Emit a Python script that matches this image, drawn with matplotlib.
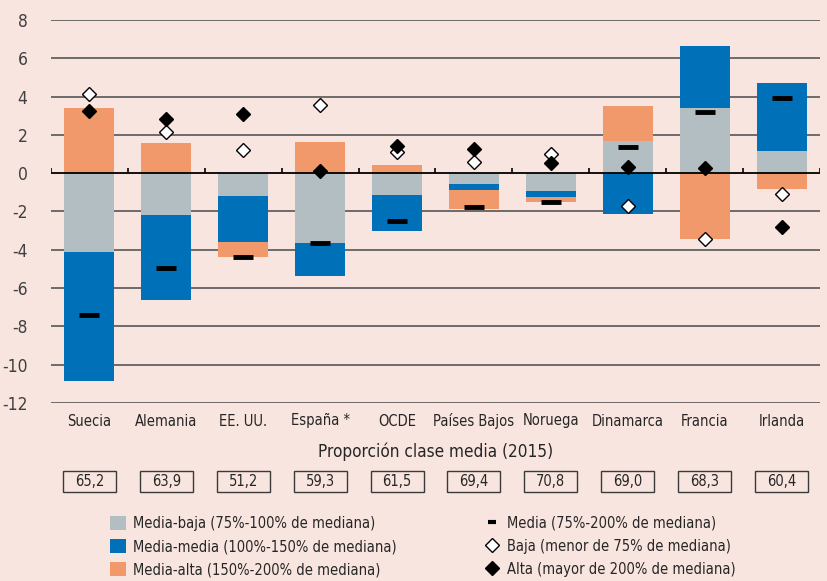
import matplotlib.pyplot as plt
import matplotlib.transforms as mtransforms
from matplotlib.patches import Patch, Rectangle
from matplotlib.lines import Line2D
import numpy as np

plt.rcParams['font.family'] = ['DejaVu Sans']
plt.rcParams['font.stretch'] = 'condensed'
plt.rcParams['axes.unicode_minus'] = False

countries = ['Suecia', 'Alemania', 'EE. UU.', 'España *', 'OCDE', 'Países Bajos',
             'Noruega', 'Dinamarca', 'Francia', 'Irlanda']
media_baja = [-4.10, -2.17, -1.18, -3.64, -1.13, -0.56, -0.92, 1.69, 3.41, 1.16]
media_media = [-6.77, -4.43, -2.40, -1.72, -1.87, -0.31, -0.32, -2.11, 3.23, 3.55]
media_alta = [3.40, 1.58, -0.79, 1.63, 0.43, -0.99, -0.29, 1.82, -3.41, -0.80]
media = [-7.43, -4.97, -4.35, -3.67, -2.52, -1.79, -1.48, 1.39, 3.21, 3.94]
baja = [4.14, 2.17, 1.22, 3.58, 1.13, 0.57, 0.99, -1.72, -3.44, -1.08]
alta = [3.27, 2.83, 3.11, 0.12, 1.44, 1.25, 0.55, 0.33, 0.26, -2.82]
proporcion = ['65,2', '63,9', '51,2', '59,3', '61,5', '69,4', '70,8', '69,0', '68,3', '60,4']

BG = '#f9e5df'
GRAY = '#b3bec3'
BLUE = '#0071b9'
ORANGE = '#f2996b'
TXT = '#262626'

fig = plt.figure(figsize=(8.27, 5.81), dpi=100, facecolor=BG)
ax = fig.add_axes([51 / 827, 1 - 403 / 581, 769 / 827, 383 / 581], facecolor=BG)

x = np.arange(len(countries))
w = 0.65

# stack positives and negatives separately, gray -> blue -> orange from zero
pos = np.zeros(len(x))
neg = np.zeros(len(x))
for vals, col in [(media_baja, GRAY), (media_media, BLUE), (media_alta, ORANGE)]:
    v = np.array(vals)
    bottom = np.where(v >= 0, pos, neg)
    ax.bar(x, v, w, bottom=bottom, color=col, zorder=2, linewidth=0)
    pos = pos + np.where(v >= 0, v, 0)
    neg = neg + np.where(v < 0, v, 0)

ax.plot(x, media, ls='none', marker='_', ms=14, mew=3.5, color='black', zorder=4)
ax.plot(x, baja, ls='none', marker='D', ms=7.5, mfc='white', mec='black', mew=1, zorder=4)
ax.plot(x, alta, ls='none', marker='D', ms=7.5, mfc='black', mec='black', zorder=4)

ax.set_xlim(-0.5, len(x) - 0.5)
ax.set_ylim(-12, 8)
ax.set_yticks(range(-12, 9, 2))
for yv in range(-12, 9, 2):
    if yv != 0:
        ax.axhline(yv, color='#555555', lw=1.2, zorder=1)
ax.axhline(0, color='black', lw=1.3, zorder=3)
ax.vlines(np.arange(len(x) + 1) - 0.5, 0, 0.25, color='black', lw=1.2, zorder=3)

for s in ax.spines.values():
    s.set_visible(False)
ax.tick_params(axis='y', length=0, pad=17, labelsize=12.5, labelcolor='#404040')
ax.tick_params(axis='x', length=0)
ax.set_xticks([])

trans = mtransforms.blended_transform_factory(ax.transData, fig.transFigure)
for i, name in enumerate(countries):
    ax.text(i, 1 - 421 / 581, name, transform=trans, ha='center', va='center',
            fontsize=10.5, color=TXT)
    ax.add_patch(Rectangle((i - 0.345, 1 - 492 / 581), 0.69, 21.5 / 581, transform=trans,
                           fill=False, edgecolor='#3a3a3a', lw=1, clip_on=False))
    ax.text(i, 1 - 481.5 / 581, proporcion[i], transform=trans, ha='center', va='center',
            fontsize=10.5, color=TXT)

fig.text(435.5 / 827, 1 - 452 / 581, 'Proporción clase media (2015)', ha='center',
         va='center', fontsize=12.3, color=TXT)

handles = [
    Patch(facecolor=GRAY, edgecolor='none'),
    Patch(facecolor=BLUE, edgecolor='none'),
    Patch(facecolor=ORANGE, edgecolor='none'),
    Line2D([], [], ls='none', marker='_', ms=6, mew=3, color='black'),
    Line2D([], [], ls='none', marker='D', ms=7, mfc='white', mec='black', mew=1),
    Line2D([], [], ls='none', marker='D', ms=7, mfc='black', mec='black'),
]
labels = [
    'Media-baja (75%-100% de mediana)',
    'Media-media (100%-150% de mediana)',
    'Media-alta (150%-200% de mediana)',
    'Media (75%-200% de mediana)',
    'Baja (menor de 75% de mediana)',
    'Alta (mayor de 200% de mediana)',
]
leg = fig.legend(handles, labels, ncol=2, loc='upper left',
                 bbox_to_anchor=(110 / 827, 1 - 516 / 581), frameon=False,
                 fontsize=10.5, borderpad=0, borderaxespad=0, handlelength=1.1,
                 handleheight=1.1, handletextpad=0.48, labelspacing=0.56,
                 columnspacing=6.0)
for t in leg.get_texts():
    t.set_color(TXT)

fig.savefig('out.png', dpi=100, facecolor=BG)
